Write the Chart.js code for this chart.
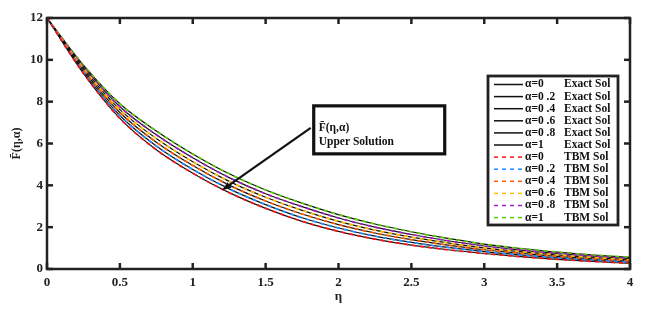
<!DOCTYPE html>
<html>
<head>
<meta charset="utf-8">
<script src="https://cdn.jsdelivr.net/npm/chart.js@4.4.0/dist/chart.umd.min.js"></script>
<style>
  html, body { margin: 0; padding: 0; background: #fff; }
  #wrap { width: 646px; height: 311px; }
</style>
</head>
<body>
<div id="wrap"><canvas id="solChart" width="646" height="311"></canvas></div>
<script>
// eta grid and curves
const eta = [0, 0.25, 0.5, 0.75, 1, 1.25, 1.5, 1.75, 2, 2.25, 2.5, 2.75, 3, 3.25, 3.5, 3.75, 4];

const exactA0  = [12, 9.35, 7.20, 5.70, 4.58, 3.65, 2.90, 2.28, 1.80, 1.43, 1.14, 0.92, 0.74, 0.59, 0.46, 0.36, 0.27];
const exactA02 = [12, 9.43, 7.34, 5.88, 4.76, 3.83, 3.08, 2.45, 1.96, 1.57, 1.27, 1.03, 0.83, 0.67, 0.53, 0.42, 0.33];
const exactA04 = [12, 9.51, 7.48, 6.06, 4.95, 4.01, 3.25, 2.63, 2.12, 1.72, 1.40, 1.14, 0.92, 0.75, 0.60, 0.48, 0.39];
const exactA06 = [12, 9.59, 7.62, 6.24, 5.13, 4.19, 3.43, 2.80, 2.28, 1.86, 1.52, 1.25, 1.01, 0.83, 0.67, 0.55, 0.44];
const exactA08 = [12, 9.67, 7.76, 6.42, 5.32, 4.37, 3.60, 2.98, 2.44, 2.00, 1.65, 1.35, 1.10, 0.90, 0.74, 0.61, 0.50];
const exactA1  = [12, 9.75, 7.90, 6.60, 5.50, 4.55, 3.78, 3.15, 2.60, 2.15, 1.78, 1.46, 1.19, 0.98, 0.81, 0.67, 0.56];

// TBM solution lies on top of the exact one
const tbmA0  = exactA0;
const tbmA02 = exactA02;
const tbmA04 = exactA04;
const tbmA06 = exactA06;
const tbmA08 = exactA08;
const tbmA1  = exactA1;

const alphaLabels = ['α=0', 'α=0 .2', 'α=0 .4', 'α=0 .6', 'α=0 .8', 'α=1'];
const tbmColors = ['#ff1010', '#1e8fff', '#ff5a00', '#ffc000', '#a020c0', '#55cc00'];

const exactSeries = [exactA0, exactA02, exactA04, exactA06, exactA08, exactA1];
const tbmSeries = [tbmA0, tbmA02, tbmA04, tbmA06, tbmA08, tbmA1];

const serif = '"Liberation Serif", "Times New Roman", serif';

function pts(arr) {
    return arr.map((v, i) => ({ x: eta[i], y: v }));
}

const datasets = [];
exactSeries.forEach((s, i) => {
    datasets.push({
        label: alphaLabels[i] + '|Exact Sol',
        data: pts(s),
        borderColor: '#111',
        borderWidth: 1.2,
        pointRadius: 0,
        cubicInterpolationMode: 'monotone',
        order: 2
    });
});
tbmSeries.forEach((s, i) => {
    datasets.push({
        label: alphaLabels[i] + '|TBM Sol',
        data: pts(s),
        borderColor: tbmColors[i],
        borderWidth: 1.7,
        borderDash: [4, 4],
        pointRadius: 0,
        cubicInterpolationMode: 'monotone',
        order: 1
    });
});

function line(ctx, x1, y1, x2, y2) {
    ctx.beginPath();
    ctx.moveTo(x1, y1);
    ctx.lineTo(x2, y2);
    ctx.stroke();
}

// MATLAB style frame, inward ticks, boxed legend and the note with arrow
const figureDecor = {
    id: 'figureDecor',
    afterDatasetsDraw(chart) {
        const { ctx, chartArea: a, scales: { x, y } } = chart;
        ctx.save();
        ctx.strokeStyle = '#222';
        ctx.lineWidth = 2.5;
        ctx.strokeRect(a.left, a.top, a.right - a.left, a.bottom - a.top);

        x.ticks.forEach(t => {
            const px = x.getPixelForValue(t.value);
            line(ctx, px, a.bottom, px, a.bottom - 6);
            line(ctx, px, a.top, px, a.top + 6);
        });
        y.ticks.forEach(t => {
            const py = y.getPixelForValue(t.value);
            line(ctx, a.left, py, a.left + 6, py);
            line(ctx, a.right, py, a.right - 6, py);
        });

        // legend
        const lx = a.right - 142, ly = a.top + 58, lw = 130, lh = 149;
        ctx.fillStyle = '#fff';
        ctx.fillRect(lx, ly, lw, lh);
        ctx.lineWidth = 2.8;
        ctx.strokeStyle = '#222';
        ctx.strokeRect(lx, ly, lw, lh);
        ctx.font = 'bold 11.5px ' + serif;
        ctx.textBaseline = 'middle';
        ctx.textAlign = 'left';
        chart.data.datasets.forEach((ds, i) => {
            const ry = ly + 8.5 + i * 12.1;
            ctx.strokeStyle = ds.borderColor;
            ctx.lineWidth = 1.5;
            ctx.setLineDash(ds.borderDash || []);
            line(ctx, lx + 6, ry, lx + 35, ry);
            ctx.setLineDash([]);
            const parts = ds.label.split('|');
            ctx.fillStyle = '#111';
            ctx.fillText(parts[0], lx + 37, ry);
            ctx.fillText(parts[1], lx + 76, ry);
        });

        // note box pointing at the lowest curve
        const bx = x.getPixelForValue(1.83), by = y.getPixelForValue(7.8);
        const bw = 131, bh = 48;
        ctx.strokeStyle = '#111';
        ctx.lineWidth = 3.2;
        ctx.fillStyle = '#fff';
        ctx.fillRect(bx, by, bw, bh);
        ctx.strokeRect(bx, by, bw, bh);
        ctx.fillStyle = '#111';
        ctx.font = 'bold 11.5px ' + serif;
        ctx.fillText('F\u0304(η,α)', bx + 5, by + 22);
        ctx.fillText('Upper Solution', bx + 5, by + 36);

        const tx = x.getPixelForValue(1.2), ty = y.getPixelForValue(3.76);
        const sx = bx - 3, sy = by + 22;
        ctx.lineWidth = 2.2;
        line(ctx, sx, sy, tx + 4, ty - 3);
        const ang = Math.atan2(ty - sy, tx - sx);
        ctx.beginPath();
        ctx.moveTo(tx, ty);
        ctx.lineTo(tx - 10 * Math.cos(ang - 0.35), ty - 10 * Math.sin(ang - 0.35));
        ctx.lineTo(tx - 10 * Math.cos(ang + 0.35), ty - 10 * Math.sin(ang + 0.35));
        ctx.closePath();
        ctx.fill();
        ctx.restore();
    }
};

new Chart(document.getElementById('solChart'), {
    type: 'line',
    data: { datasets: datasets },
    options: {
        responsive: false,
        animation: false,
        layout: { padding: { top: 18, right: 16, left: 0, bottom: 0 } },
        plugins: { legend: { display: false }, tooltip: { enabled: false } },
        scales: {
            x: {
                type: 'linear',
                min: 0, max: 4,
                ticks: { stepSize: 0.5, color: '#222', padding: 6, maxRotation: 0,
                         callback: v => String(v),
                         font: { family: serif, weight: 'bold', size: 13 } },
                grid: { display: false, drawTicks: false },
                border: { display: false },
                title: { display: true, text: 'η', color: '#222', padding: { top: 0, bottom: 7 },
                         font: { family: serif, weight: 'bold', size: 13 } },
                afterFit: s => { s.height = 42; }
            },
            y: {
                min: 0, max: 12,
                ticks: { stepSize: 2, color: '#222', padding: 4,
                         callback: v => String(v),
                         font: { family: serif, weight: 'bold', size: 13 } },
                grid: { display: false, drawTicks: false },
                border: { display: false },
                title: { display: true, text: 'F\u0304(η,α)', color: '#222', padding: { top: 10, bottom: 0 },
                         font: { family: serif, weight: 'bold', size: 12 } },
                afterFit: s => { s.width = 47; }
            }
        }
    },
    plugins: [figureDecor]
});
</script>
</body>
</html>
